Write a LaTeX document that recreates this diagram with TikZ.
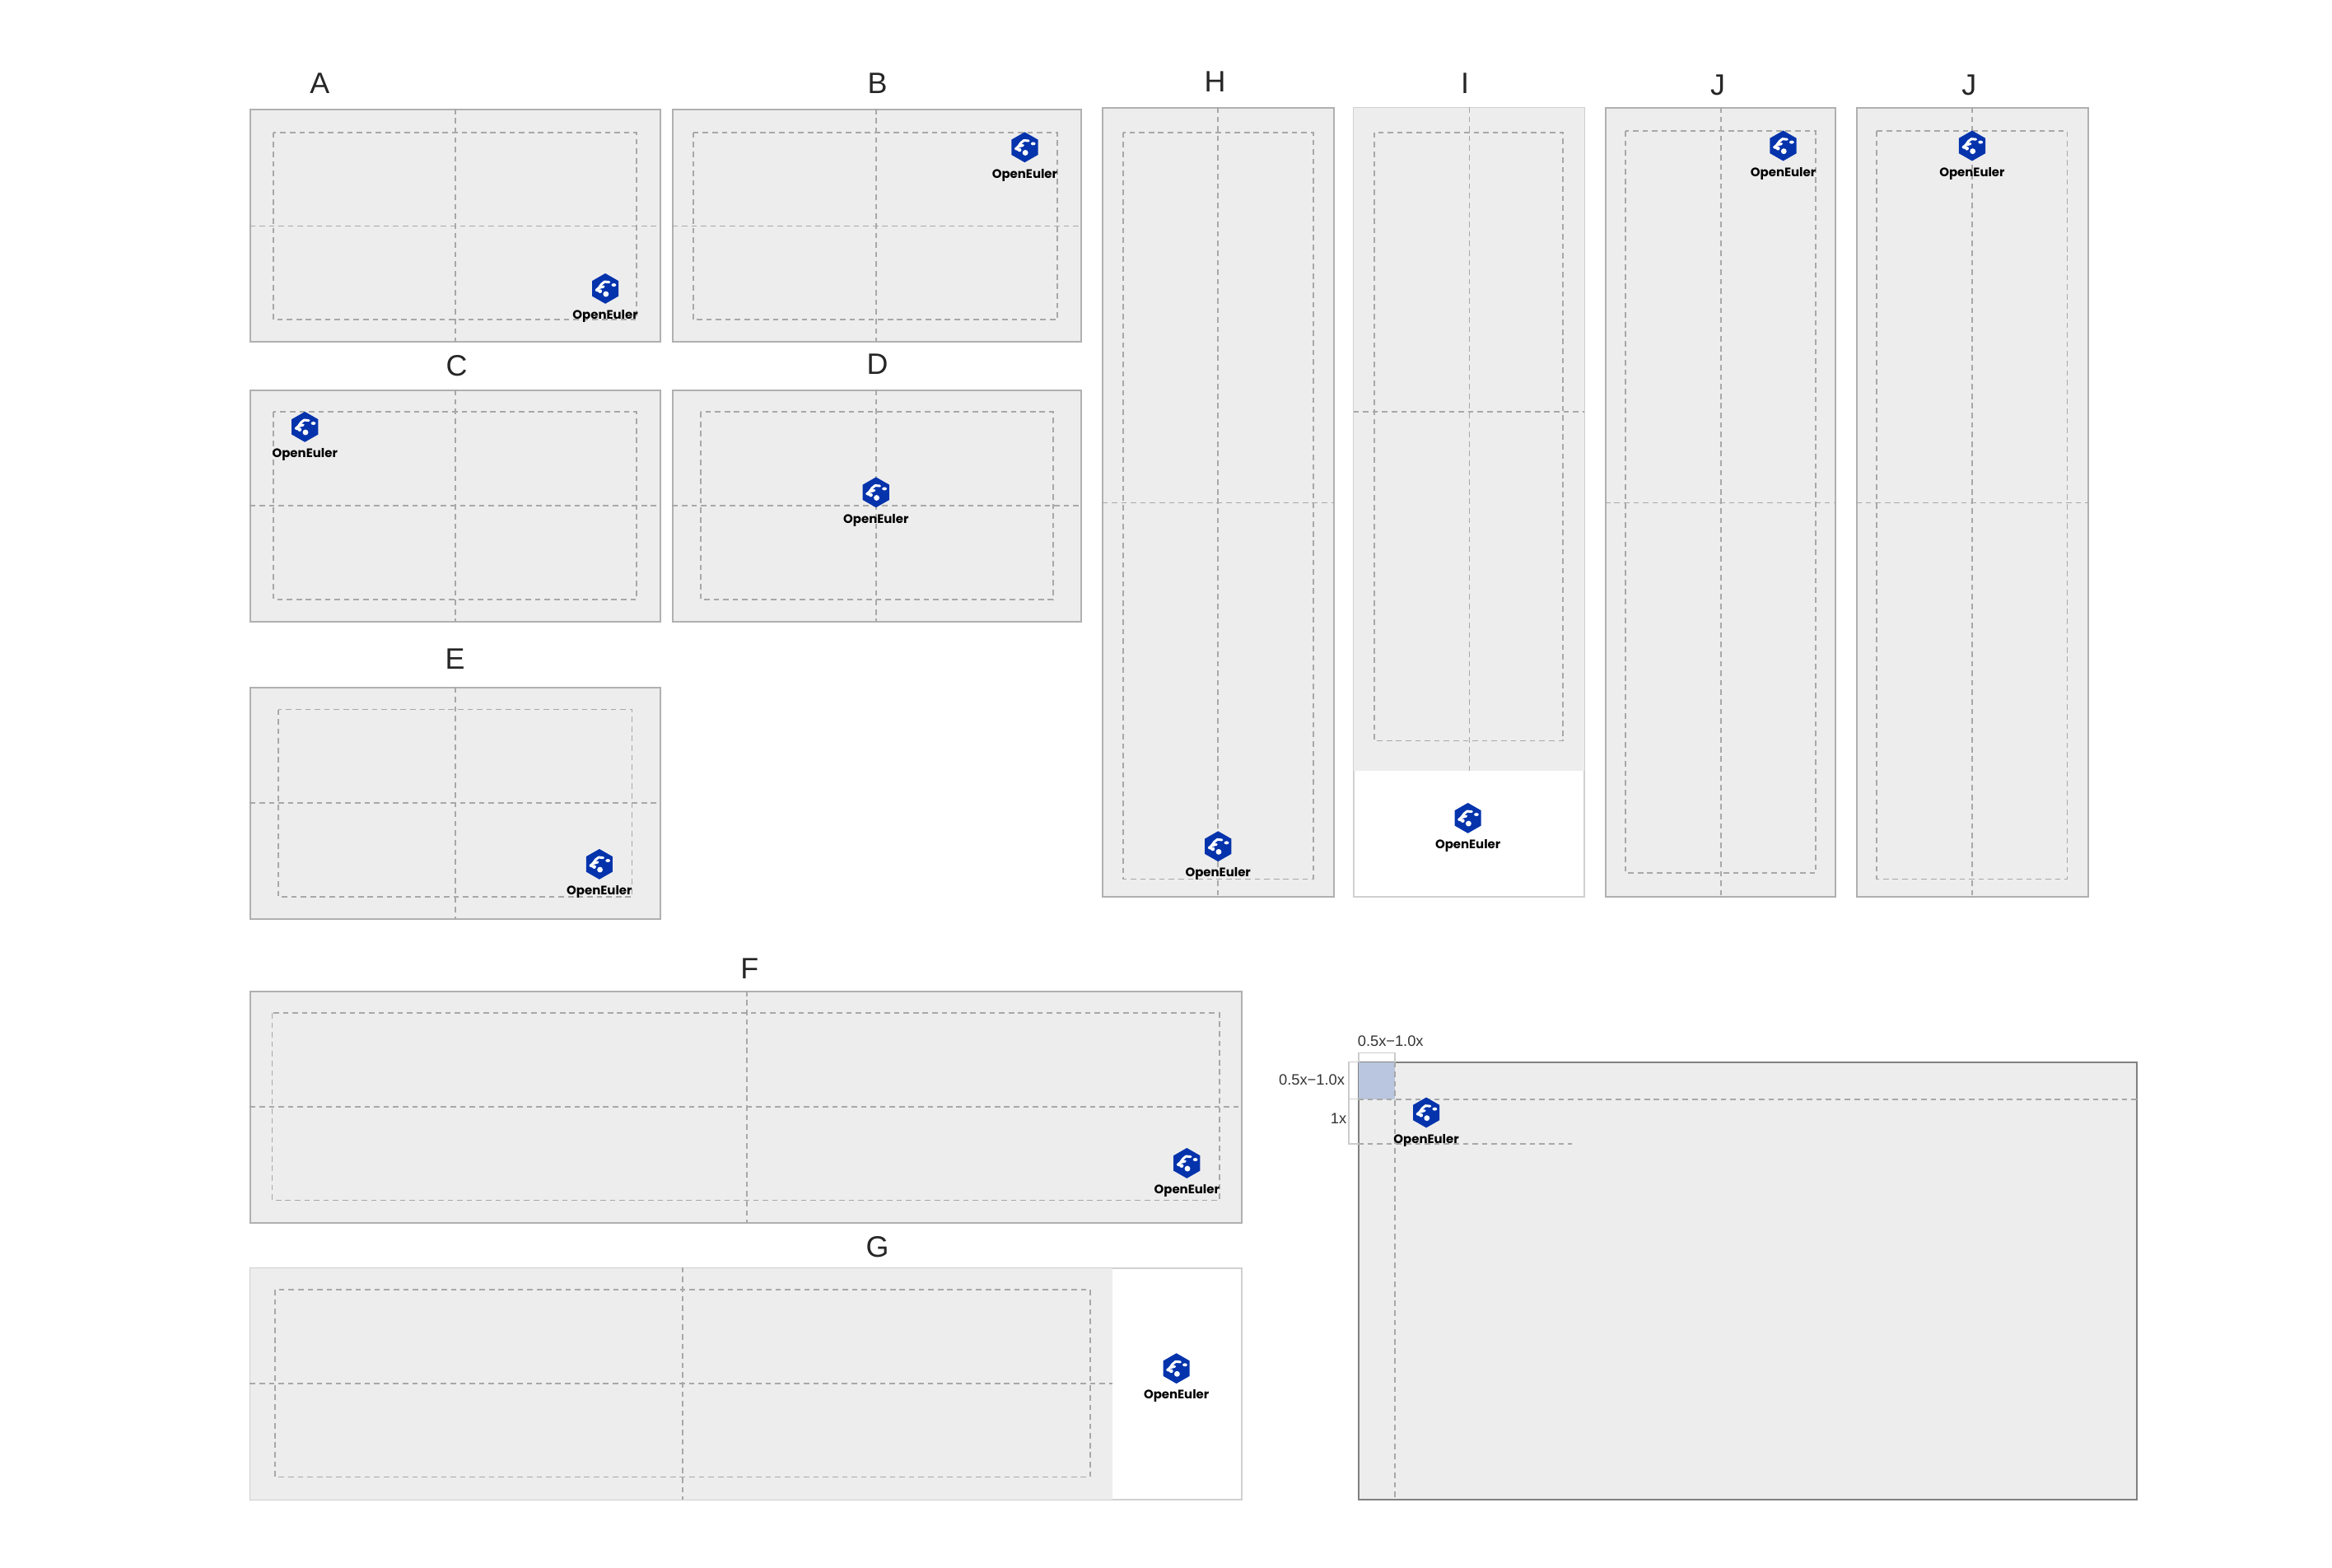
\documentclass[tikz,border=0pt]{standalone}
\usepackage{fontspec}
\setmainfont{Liberation Sans}
\newfontfamily\logofont{Poppins}
\usetikzlibrary{positioning}
\definecolor{panelgray}{HTML}{EDEDED}
\definecolor{edgegray}{HTML}{B0B0B0}
\definecolor{dashgray}{HTML}{A8A8A8}
\definecolor{logoblue}{HTML}{0433AC}
\definecolor{areablue}{HTML}{BAC6DF}
\tikzset{panel/.style = {draw=edgegray, fill=panelgray, line width=0.55pt},
         guide/.style = {draw=dashgray, line width=0.5pt, dash pattern=on 1.9pt off 1.4pt},
         letter/.style = {font=\fontsize{10.2}{12}\selectfont, text=black!85},
         size/.style = {font=\fontsize{5.2}{6}\selectfont, text=black!80},
         brace/.style = {draw=black!20, line width=0.4pt},
         eulerlogo/.pic = {
           \fill [logoblue] (0, -10.2) -- (8.9, -5.1) -- (8.9, 5.1) -- (0, 10.2)
                            -- (-8.9, 5.1) -- (-8.9, -5.1) -- cycle;
           \draw [white, line width=0.85pt, line cap=round, line join=round]
                 (2.6, -4.3) -- (-0.5, -4.6) -- (-2.5, -3) -- (-4.4, -0.4) -- (-1.1, -1.3)
                 (-6, 1) -- (-4.4, -0.4) (-6, 1) -- (-3.5, 1.8);
           \fill [white] (0.4, 3.7) circle [radius=1.9];
           \fill [white] (5.7, -2.4) circle [x radius=1.6, y radius=1.1];
           \fill [white] (-3.5, 1.8) circle [radius=1.3];
           \fill [white] (-6, 1) circle [radius=0.9];
           \node [anchor=base] (-name) at (0, 20.6) {\logofont\fontsize{4.25}{5}\selectfont\bfseries OpenEuler};
         }}

\begin{document}
\begin{tikzpicture}[x=0.0180612cm, y=-0.0180612cm]
    \useasboundingbox (0, 0) rectangle (1568, 1054.2);
    % panels, gray all over
    \foreach \n/\xa/\ya/\xb/\yb in {a/168/73/444/230, b/452/73/727/230, c/168/262/444/418,
                                    d/452/262/727/418, e/168/462/444/618, f/168/666/835/822,
                                    h/741/72/897/603, j/1079/72/1234/603, k/1248/72/1404/603}
      \draw [panel] (\xa+0.5, \ya+0.5) rectangle (\xb, \yb);
    % panels with a white part
    \draw [edgegray!60, fill=white, line width=0.55pt] (168.5, 852.5) rectangle (835, 1008);
    \fill [panelgray] (168.5, 852.5) rectangle (748, 1008);
    \draw [edgegray!60, fill=white, line width=0.55pt] (910, 72.5) rectangle (1065, 603);
    \fill [panelgray] (910, 72.5) rectangle (1065, 518);
    \draw [draw=black!50, fill=panelgray, line width=0.55pt] (913.5, 714) rectangle (1437, 1008);
    \fill [areablue] (913.5, 714.3) rectangle (938, 739);
    % safe areas and centre lines
    \foreach \xa/\ya/\xb/\yb in {184/89/428/215, 466/89/711/215, 184/277/428/403, 471/277/708/403,
                                 187/477/425/603, 183/681/820/807, 185/867/733/993,
                                 755/89/883/591, 924/89/1051/498, 1093/88/1221/587, 1262/88/1390/591}
      \draw [guide] (\xa, \ya) rectangle (\xb, \yb);
    \foreach \cx/\ya/\yb in {306/73/230, 589/73/230, 306/262/418, 589/262/418, 306/462/618, 502/666/822,
                             459/852/1008, 819/72/603, 988/72/518, 1157/72/603, 1326/72/603, 938/714/1008}
      \draw [guide] (\cx, \ya) -- (\cx, \yb);
    \foreach \cy/\xa/\xb in {152/168/444, 152/452/727, 340/168/444, 340/452/727, 540/168/444, 744/168/835,
                             930/168/748, 338/741/897, 277/910/1065, 338/1079/1234, 338/1248/1404,
                             739/913/1437, 769/913/1057}
      \draw [guide] (\xa, \cy) -- (\xb, \cy);
    % brackets of the last panel
    \draw [brace] (913.5, 714) -- (913.5, 708) -- (938, 708) -- (938, 714);
    \draw [brace] (913.5, 714) -- (907, 714) -- (907, 769) -- (913.5, 769);
    \draw [brace] (907, 739) -- (913.5, 739);
    % logos
    \foreach \n/\lx/\ly in {a/407/194, b/689/99, c/205/287, d/589/331, e/403/581, f/798/782, g/791/920,
                            h/819/569, i/987/550, j/1199/98, k/1326/98, m/959/748}
      \pic (logo\n) at (\lx, \ly) {eulerlogo};
    % letters
    \foreach \n/\t/\lx/\ly in {a/A/215/56, b/B/590/56, c/C/307/246, d/D/590/245, e/E/306/443, f/F/504/651,
                               g/G/590/838.5, h/H/817/55, i/I/985/56, j/J/1155/57, k/J/1324/57}
      \node [letter] (letter\n) at (\lx, \ly) {\t};
    \node [size] (sizetop) at (935, 700) {0.5x−1.0x};
    \node [size] (sizeleft) at (882, 726) {0.5x−1.0x};
    \node [size] (sizeone) at (900, 752) {1x};
  \end{tikzpicture}
\end{document}
